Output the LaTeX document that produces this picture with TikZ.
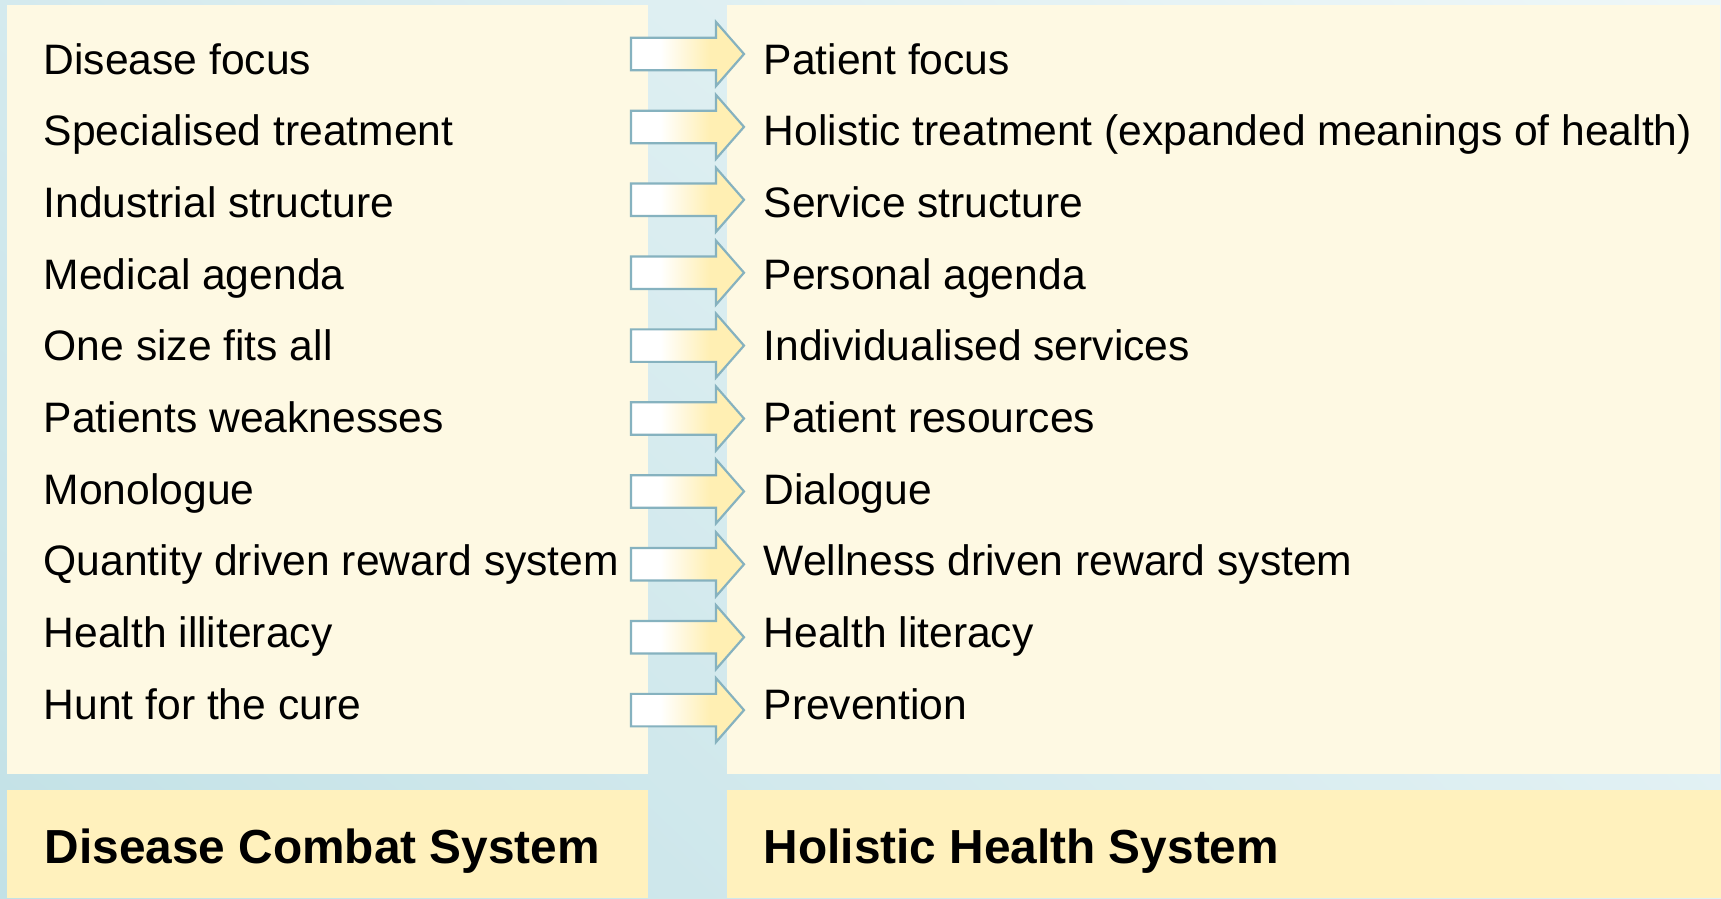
\documentclass[tikz,border=0pt]{standalone}
\usepackage{fontspec}
\setmainfont{Liberation Sans}
\usetikzlibrary{shadings}
\definecolor{panel}{HTML}{FEF9E3}
\definecolor{labelbox}{HTML}{FFF1BD}
\definecolor{arrowline}{HTML}{86B2BF}
\definecolor{arrowyel}{HTML}{FFEFB3}
\definecolor{bgA}{HTML}{C2E1E6}
\definecolor{bgB}{HTML}{D4EAEE}
\definecolor{bgC}{HTML}{EEF7F8}
\definecolor{bgD}{HTML}{E0F0F3}
\pgfdeclarehorizontalshading{arrowfill}{100bp}{color(0bp)=(white); color(38bp)=(white); color(60bp)=(arrowyel); color(100bp)=(arrowyel)}
\begin{document}
\begin{tikzpicture}[x=1pt,y=-1pt,
  item/.style={inner sep=0pt, anchor=base west, font=\fontsize{42.6}{50}\selectfont, text=black},
  title/.style={inner sep=0pt, anchor=base west, font=\fontsize{47.8}{56}\selectfont\bfseries, text=black},
  blockarrow/.style={shade, shading=arrowfill, draw=arrowline, line width=2.2pt}]
\useasboundingbox (0,0) rectangle (1721,898);
\shade[upper left=bgB, upper right=bgC, lower left=bgA, lower right=bgD] (0,0) rectangle (1721,898);
\fill[panel] (7,5) rectangle (648,774);
\fill[panel] (727,5) rectangle (1720,774);
\fill[labelbox] (7,790) rectangle (648,898);
\fill[labelbox] (727,790) rectangle (1721,898);
\foreach \i/\l/\r in {0/{Disease focus}/{Patient focus},
  1/{Specialised treatment}/{Holistic treatment (expanded meanings of health)},
  2/{Industrial structure}/{Service structure},
  3/{Medical agenda}/{Personal agenda},
  4/{One size fits all}/{Individualised services},
  5/{Patients weaknesses}/{Patient resources},
  6/{Monologue}/{Dialogue},
  7/{Quantity driven reward system}/{Wellness driven reward system},
  8/{Health illiteracy}/{Health literacy},
  9/{Hunt for the cure}/{Prevention}}{
  \pgfmathsetmacro{\yb}{74+71.67*\i}
  \pgfmathsetmacro{\c}{54+72.9*\i}
  \node[item] (l\i) at (43.5,\yb) {\l};
  \node[item] (r\i) at (763.5,\yb) {\r};
  \path[blockarrow] (631,\c-16.25) -- (716,\c-16.25) -- (716,\c-32) -- (744,\c)
     -- (716,\c+32) -- (716,\c+16.25) -- (631,\c+16.25) -- cycle;
}
\node[title] (dcs) at (44.5,863) {Disease Combat System};
\node[title] (hhs) at (763.5,863) {Holistic Health System};
\end{tikzpicture}
\end{document}
